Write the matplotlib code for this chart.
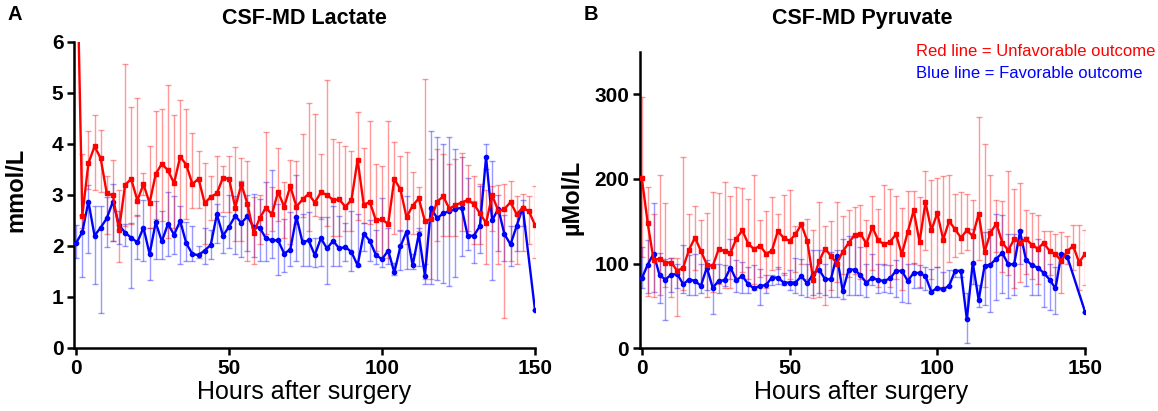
import matplotlib
matplotlib.use("Agg")
import matplotlib.pyplot as plt
import numpy as np

plt.rcParams['font.family'] = ['Liberation Sans', 'DejaVu Sans']

# sampling time, hours after surgery
hours = np.arange(0, 151, 2)
nan = np.nan

# CSF-MD lactate, mmol/L (mean, upper and lower end of bar)
lac_unfav = [8.5, 2.59, 3.62, 3.95, 3.72, 3.03, 2.99, 2.31, 3.20, 3.31,
             2.89, 3.21, 2.84, 3.41, 3.61, 3.48, 3.23, 3.75, 3.59, 3.21,
             3.32, 2.84, 2.96, 3.03, 3.34, 3.31, 2.75, 3.21, 2.82, 2.26,
             2.54, 2.75, 2.62, 3.06, 2.77, 3.17, 2.77, 2.91, 3.02, 2.85,
             3.05, 3.00, 2.90, 2.91, 2.77, 2.90, 3.69, 2.81, 2.86, 2.50,
             2.52, 2.43, 3.31, 3.11, 2.56, 2.79, 2.93, 2.49, 2.52, 2.87,
             2.97, 2.73, 2.80, 2.85, 2.90, 2.82, 2.64, 2.45, 2.99, 2.69,
             2.72, 2.86, 2.62, 2.75, 2.68, 2.41]
lac_unfav_hi = [8.5, 3.80, 4.26, 4.57, 4.28, 3.38, 3.69, 3.10, 5.57, 4.73,
                4.89, 3.43, 3.95, 4.64, 4.68, 5.15, 4.56, 4.85, 4.68, 4.22,
                3.86, 3.63, 3.38, 3.76, 3.56, 3.76, 3.94, 3.73, 3.66, 2.95,
                3.00, 4.24, 3.15, 3.92, 3.25, 3.69, 3.66, 4.19, 4.80, 4.59,
                3.80, 5.25, 4.10, 4.03, 3.95, 3.86, 4.62, 3.91, 4.45, 3.61,
                3.57, 4.45, 4.03, 3.77, 3.84, 3.44, 3.15, 5.28, 3.70, 3.90,
                3.80, 3.60, 3.70, 3.83, 3.59, 3.38, 3.21, 3.10, 3.18, 3.19,
                3.21, 3.28, 2.98, 3.02, 2.98, 3.18]
lac_unfav_lo = [8.5, 2.35, 3.11, 3.10, 3.05, 2.23, 2.10, 1.69, 2.39, 2.43,
                2.59, 3.00, 2.36, 2.52, 2.49, 2.16, 2.36, 2.39, 2.52, 2.75,
                2.75, 2.03, 2.50, 2.60, 2.66, 2.66, 2.10, 2.10, 1.70, 1.64,
                2.03, 2.23, 2.30, 2.49, 2.16, 2.03, 2.43, 2.56, 2.30, 2.59,
                2.52, 2.40, 2.20, 2.20, 2.30, 2.30, 2.50, 2.44, 2.43, 1.90,
                1.77, 1.77, 2.23, 2.30, 2.03, 2.23, 2.30, 1.36, 1.36, 2.10,
                2.20, 2.20, 2.20, 2.30, 2.30, 2.03, 2.03, 1.64, 2.30, 1.64,
                0.59, 1.70, 1.64, 1.90, 2.03, 1.77]

lac_fav = [2.06, 2.27, 2.87, 2.20, 2.36, 2.54, 2.87, 2.41, 2.26, 2.16,
           2.07, 2.36, 1.84, 2.46, 2.09, 2.43, 2.22, 2.49, 2.05, 1.84,
           1.82, 1.91, 2.02, 2.62, 2.20, 2.38, 2.59, 2.45, 2.58, 2.37,
           2.36, 2.15, 2.11, 2.11, 1.85, 1.93, 2.57, 2.07, 2.11, 1.82,
           2.15, 1.95, 2.10, 1.95, 1.98, 1.88, 1.62, 2.24, 2.10, 1.82,
           1.74, 1.91, 1.48, 1.99, 2.28, 1.62, 2.23, 1.42, 2.75, 2.54,
           2.64, 2.68, 2.72, 2.75, 2.20, 2.20, 2.39, 3.74, 2.50, 2.73,
           2.23, 2.03, 2.39, 2.75, nan, 0.74]
lac_fav_hi = [2.41, 2.60, 3.20, 2.79, 2.79, 2.95, 3.21, 2.69, 2.43, 2.44,
              2.61, 2.90, 2.36, 2.89, 2.69, 3.05, 2.98, 2.79, 2.46, 2.39,
              2.00, 2.35, 2.31, 2.82, 2.59, 3.00, 2.98, 3.27, 3.00, 3.02,
              2.92, 3.25, 3.48, 2.82, 2.52, 2.66, 3.39, 2.62, 2.66, 2.16,
              2.56, 2.56, 2.79, 2.59, 2.44, 2.69, 2.62, 2.44, 2.50, 2.31,
              2.94, 2.36, 1.67, 2.32, 2.98, 1.84, 2.36, 1.64, 4.26, 4.13,
              4.00, 4.13, 3.90, 3.74, 3.34, 2.89, 3.18, 4.00, 3.66, 3.00,
              2.60, 2.40, 2.60, 2.90, nan, 0.74]
lac_fav_lo = [1.77, 1.40, 1.87, 1.25, 0.69, 1.97, 2.10, 2.03, 2.00, 1.18,
              1.75, 1.70, 1.34, 1.74, 1.74, 1.80, 1.84, 1.64, 1.70, 1.70,
              1.77, 1.65, 1.74, 2.05, 1.87, 1.95, 1.84, 1.79, 1.90, 1.78,
              1.70, 1.70, 1.77, 1.44, 1.48, 1.61, 1.70, 1.61, 1.61, 1.59,
              1.60, 1.25, 1.61, 1.61, 1.70, 1.51, 1.61, 1.90, 1.70, 1.64,
              1.59, 1.64, 1.44, 1.52, 1.54, 1.54, 1.60, 1.25, 1.25, 1.34,
              1.28, 1.21, 1.40, 1.80, 1.93, 1.67, 1.87, 3.50, 1.34, 1.90,
              1.70, 1.60, 1.90, 2.40, nan, 0.74]

# CSF-MD pyruvate, umol/L
pyr_unfav = [200.8, 147.8, 103.9, 105.9, 101.2, 101.2, 91.4, 95.3, 116.5, 130.6,
             114.9, 98.8, 96.9, 116.9, 114.9, 112.5, 129.4, 139.2, 123.5, 116.9,
             121.2, 111.8, 114.9, 138.0, 130.6, 126.7, 134.5, 146.3, 126.7, 81.2,
             102.7, 117.6, 109.0, 100.0, 114.1, 124.3, 133.7, 135.3, 123.5, 143.1,
             127.5, 122.7, 125.5, 134.5, 111.0, 137.3, 162.7, 125.5, 172.5, 139.2,
             159.6, 128.2, 150.2, 140.4, 130.6, 139.2, 132.5, 158.8, 113.7, 136.5,
             147.1, 124.7, 115.7, 128.6, 124.7, 129.4, 122.0, 117.6, 124.3, 114.9,
             111.0, 103.1, 114.9, 120.8, 101.2, 111.8]
pyr_unfav_hi = [296, 190, 158, 205, 171, 106, 107, 226, 158, 168,
                151, 160, 185, 183, 196, 180, 190, 189, 176, 205,
                152, 162, 179, 159, 181, 187, 144, 139, 153, 140,
                173, 144, 150, 173, 156, 163, 167, 169, 152, 180,
                164, 193, 188, 180, 165, 186, 186, 178, 209, 199,
                201, 203, 204, 182, 184, 182, 175, 273, 241, 205,
                175, 174, 209, 188, 195, 163, 160, 157, 139, 139,
                135, 137, 133, 145, 145, 140]
pyr_unfav_lo = [108, 62, 61, 63, 72, 61, 38, 69, 82, 92,
                76, 61, 67, 76, 71, 71, 80, 90, 82, 76,
                84, 71, 92, 94, 86, 82, 90, 100, 82, 59,
                61, 51, 69, 78, 88, 84, 88, 82, 76, 92,
                72, 98, 72, 82, 69, 82, 100, 72, 116, 82,
                96, 72, 102, 108, 112, 116, 100, 104, 72, 100,
                114, 90, 86, 71, 78, 88, 82, 76, 86, 86,
                72, 65, 100, 92, 69, 75]

pyr_fav = [82.4, 98.8, 111.8, 86.3, 81.2, 87.1, 87.5, 75.7, 81.2, 79.6,
           73.7, 95.3, 71.4, 79.6, 80.4, 95.3, 80.4, 85.5, 75.7, 70.6,
           73.7, 74.5, 83.5, 83.5, 77.6, 77.6, 77.6, 85.1, 76.5, 88.2,
           92.9, 81.6, 81.6, 109.4, 67.5, 92.9, 92.9, 86.3, 77.3, 83.5,
           80.4, 79.6, 82.4, 91.4, 91.4, 79.6, 89.0, 89.0, 85.1, 66.7,
           71.4, 69.8, 73.7, 91.4, 91.4, 34.1, 101.2, 56.9, 97.3, 98.8,
           105.9, 112.5, 99.2, 99.2, 138.0, 104.7, 98.0, 95.3, 89.0, 81.2,
           70.6, 111.8, 107.8, nan, nan, 43.1]
pyr_fav_hi = [120, 128, 171, 112, 105, 106, 100, 122, 110, 111,
              100, 104, 99, 99, 98, 129, 104, 102, 96, 98,
              94, 86, 86, 96, 89, 92, 107, 105, 100, 116,
              116, 100, 114, 116, 129, 132, 131, 120, 100, 111,
              100, 99, 98, 104, 114, 100, 101, 98, 96, 94,
              96, 90, 92, 92, 92, 65, 141, 75, 137, 141,
              159, 157, 135, 135, 140, 131, 122, 129, 124, 100,
              96, 112, 108, nan, nan, 43]
pyr_fav_lo = [71, 65, 67, 54, 33, 67, 71, 65, 63, 63,
              65, 69, 40, 65, 73, 82, 67, 65, 65, 69,
              51, 65, 75, 76, 75, 69, 65, 63, 61, 63,
              65, 63, 61, 61, 58, 63, 63, 63, 61, 75,
              65, 67, 65, 61, 55, 53, 71, 71, 69, 65,
              69, 69, 84, 84, 84, 6, 76, 49, 51, 43,
              57, 65, 59, 63, 100, 73, 63, 63, 49, 45,
              41, 112, 108, nan, nan, 43]


def draw_series(ax, mean, lo, hi, color, marker, ms, z):
    mean = np.array(mean, dtype=float)
    lo = np.array(lo, dtype=float)
    hi = np.array(hi, dtype=float)
    ok = np.isfinite(mean)
    x, mean, lo, hi = hours[ok], mean[ok], lo[ok], hi[ok]
    err = [np.clip(mean - lo, 0, None), np.clip(hi - mean, 0, None)]
    ax.errorbar(x, mean, yerr=err, fmt='none', ecolor=color, alpha=0.4,
                elinewidth=1.0, capsize=2.2, capthick=1.0, zorder=1)
    ax.plot(x, mean, color=color, lw=1.7, marker=marker, ms=ms, zorder=z)


def style_axis(ax, yticks, ymax):
    for s in ['top', 'right']:
        ax.spines[s].set_visible(False)
    for s in ['left', 'bottom']:
        ax.spines[s].set_linewidth(1.8)
    ax.set_xlim(-0.6, 150)
    ax.set_ylim(0, ymax)
    ax.set_xticks([0, 50, 100, 150])
    ax.set_yticks(yticks)
    ax.tick_params(direction='out', length=4.8, width=1.8, labelsize=15, pad=3)
    for lab in ax.get_xticklabels() + ax.get_yticklabels():
        lab.set_fontweight('bold')


fig = plt.figure(figsize=(11.58, 4.11), dpi=100)

ax1 = fig.add_axes([0.0642, 0.1533, 0.3978, 0.745])
draw_series(ax1, lac_fav, lac_fav_lo, lac_fav_hi, '#0000ff', 'o', 3.0, 3)
draw_series(ax1, lac_unfav, lac_unfav_lo, lac_unfav_hi, '#ff0000', 's', 3.4, 4)
style_axis(ax1, [0, 1, 2, 3, 4, 5, 6], 6)

ax2 = fig.add_axes([0.5527, 0.1525, 0.3843, 0.7217])
draw_series(ax2, pyr_fav, pyr_fav_lo, pyr_fav_hi, '#0000ff', 'o', 3.0, 3)
draw_series(ax2, pyr_unfav, pyr_unfav_lo, pyr_unfav_hi, '#ff0000', 's', 3.4, 4)
style_axis(ax2, [0, 100, 200, 300], 350)

fig.text(0.0125, 0.964, 'A', fontsize=14.5, fontweight='bold', ha='center', va='center')
fig.text(0.510, 0.964, 'B', fontsize=14.5, fontweight='bold', ha='center', va='center')
fig.text(0.263, 0.956, 'CSF-MD Lactate', fontsize=15.5, fontweight='bold', ha='center', va='center')
fig.text(0.745, 0.956, 'CSF-MD Pyruvate', fontsize=15.5, fontweight='bold', ha='center', va='center')
fig.text(0.263, 0.046, 'Hours after surgery', fontsize=18, ha='center', va='center')
fig.text(0.744, 0.046, 'Hours after surgery', fontsize=18, ha='center', va='center')
fig.text(0.0138, 0.538, 'mmol/L', fontsize=17, fontweight='bold', rotation=90, ha='center', va='center')
fig.text(0.494, 0.52, 'µMol/L', fontsize=17, fontweight='bold', rotation=90, ha='center', va='center')
fig.text(0.791, 0.874, 'Red line = Unfavorable outcome', fontsize=12, color='#ff0000', ha='left', va='center')
fig.text(0.791, 0.822, 'Blue line = Favorable outcome', fontsize=12, color='#0000ff', ha='left', va='center')

fig.savefig('out.png', dpi=100)
